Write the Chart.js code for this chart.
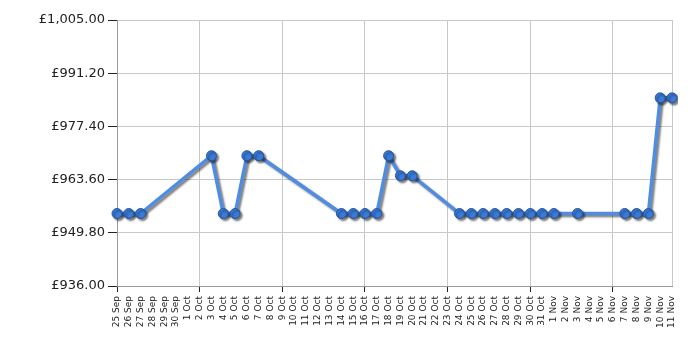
<!DOCTYPE html>
<html>
<head>
<meta charset="utf-8">
<script src="https://cdn.jsdelivr.net/npm/chart.js@4"></script>
<style>
  html, body { margin: 0; padding: 0; background: #fff; }
  #wrap { width: 700px; height: 350px; }
</style>
</head>
<body>
<div id="wrap"><canvas id="priceChart"></canvas></div>
<script>
// Day labels, 25 Sep - 11 Nov
const dates = [
    '25 Sep', '26 Sep', '27 Sep', '28 Sep', '29 Sep', '30 Sep',
    '1 Oct', '2 Oct', '3 Oct', '4 Oct', '5 Oct', '6 Oct', '7 Oct', '8 Oct',
    '9 Oct', '10 Oct', '11 Oct', '12 Oct', '13 Oct', '14 Oct', '15 Oct',
    '16 Oct', '17 Oct', '18 Oct', '19 Oct', '20 Oct', '21 Oct', '22 Oct',
    '23 Oct', '24 Oct', '25 Oct', '26 Oct', '27 Oct', '28 Oct', '29 Oct',
    '30 Oct', '31 Oct', '1 Nov', '2 Nov', '3 Nov', '4 Nov', '5 Nov',
    '6 Nov', '7 Nov', '8 Nov', '9 Nov', '10 Nov', '11 Nov'
];

// Price per day (null = no reading)
const prices = [
    954.8, 954.8, 954.8, null, null, null,
    null, null, 969.8, 954.8, 954.8, 969.8, 969.8, null,
    null, null, null, null, null, 954.8, 954.8,
    954.8, 954.8, 969.8, 964.6, 964.6, null, null,
    null, 954.8, 954.8, 954.8, 954.8, 954.8, 954.8,
    954.8, 954.8, 954.8, null, 954.8, null, null,
    null, 954.8, 954.8, 954.8, 984.8, 984.8
];

const yTicks = [936, 949.8, 963.6, 977.4, 991.2, 1005];

const money = v => '£' + v.toLocaleString('en-GB', { minimumFractionDigits: 2, maximumFractionDigits: 2 });

// soft drop shadow under the line
const shadowPlugin = {
    id: 'lineShadow',
    beforeDatasetDraw(chart) {
        const ctx = chart.ctx;
        ctx.save();
        ctx.shadowColor = 'rgba(0,0,0,0.5)';
        ctx.shadowBlur = 2;
        ctx.shadowOffsetX = 2;
        ctx.shadowOffsetY = 2;
    },
    afterDatasetDraw(chart) {
        chart.ctx.restore();
    }
};

const weekly = ctx => ctx.index % 7 === 0 || ctx.index === dates.length - 1;

new Chart(document.getElementById('priceChart').getContext('2d'), {
    type: 'line',
    data: {
        labels: dates,
        datasets: [{
            data: prices,
            spanGaps: true,
            borderColor: '#4f8de3',
            borderWidth: 3.5,
            tension: 0,
            pointRadius: 5,
            pointBackgroundColor: '#3a7ad8',
            pointBorderColor: '#24569e',
            pointBorderWidth: 1
        }]
    },
    options: {
        responsive: true,
        maintainAspectRatio: false,
        animation: false,
        layout: { padding: { top: 20, right: 28, left: 0, bottom: 0 } },
        plugins: {
            legend: { display: false },
            tooltip: { enabled: false }
        },
        scales: {
            x: {
                offset: false,
                afterFit: scale => { scale.height = 64; },
                grid: {
                    color: ctx => weekly(ctx) ? '#c8c8c8' : 'rgba(0,0,0,0)',
                    tickColor: ctx => (ctx.index % 7 === 0) ? '#222' : 'rgba(0,0,0,0)',
                    tickLength: 6,
                    drawOnChartArea: true
                },
                border: { color: '#999' },
                ticks: {
                    autoSkip: false,
                    maxRotation: 90,
                    minRotation: 90,
                    padding: 4,
                    color: '#222',
                    font: { family: 'DejaVu Sans', size: 9 }
                }
            },
            y: {
                min: 936,
                max: 1005,
                afterFit: scale => { scale.width = 117; },
                afterBuildTicks: scale => { scale.ticks = yTicks.map(v => ({ value: v })); },
                grid: {
                    color: '#c8c8c8',
                    tickColor: '#222',
                    tickLength: 9
                },
                border: { color: '#999' },
                ticks: {
                    padding: 3,
                    color: '#222',
                    font: { family: 'DejaVu Sans', size: 13 },
                    callback: v => money(v)
                }
            }
        }
    },
    plugins: [shadowPlugin]
});
</script>
</body>
</html>
